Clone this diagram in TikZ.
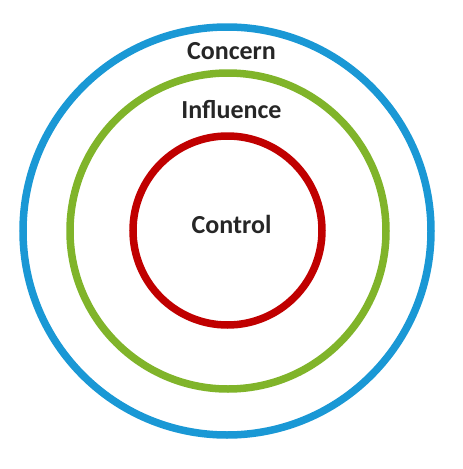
\documentclass[tikz,border=0pt]{standalone}
\usepackage{fontspec}
\setmainfont{Carlito}
\usetikzlibrary{positioning}
\definecolor{concernblue}{HTML}{1A98D5}
\definecolor{influencegreen}{HTML}{80B42A}
\definecolor{controlred}{HTML}{C00000}
\definecolor{ink}{HTML}{262626}
\tikzset{
  ring/.style={circle, draw=#1, line width=7.5pt, inner sep=0pt, fill=none},
  label text/.style={font=\fontsize{26}{30}\selectfont\bfseries, text=ink, anchor=base, inner sep=0pt}
}

\begin{document}
\begin{tikzpicture}[x=1pt, y=-1pt]
  \useasboundingbox (0,0) rectangle (463,469);

  \node[ring=concernblue, minimum size=408pt] (concern) at (227,231) {};
  \node[ring=influencegreen, minimum size=316pt] (influence) at (228,231) {};
  \node[ring=controlred, minimum size=189pt] (control) at (227.5,230.5) {};

  \node[label text] (concernlabel) at (231.5,59) {Concern};
  \node[label text] (influencelabel) at (231.5,118) {Influence};
  \node[label text] (controllabel) at (231.5,233) {Control};
\end{tikzpicture}
\end{document}
